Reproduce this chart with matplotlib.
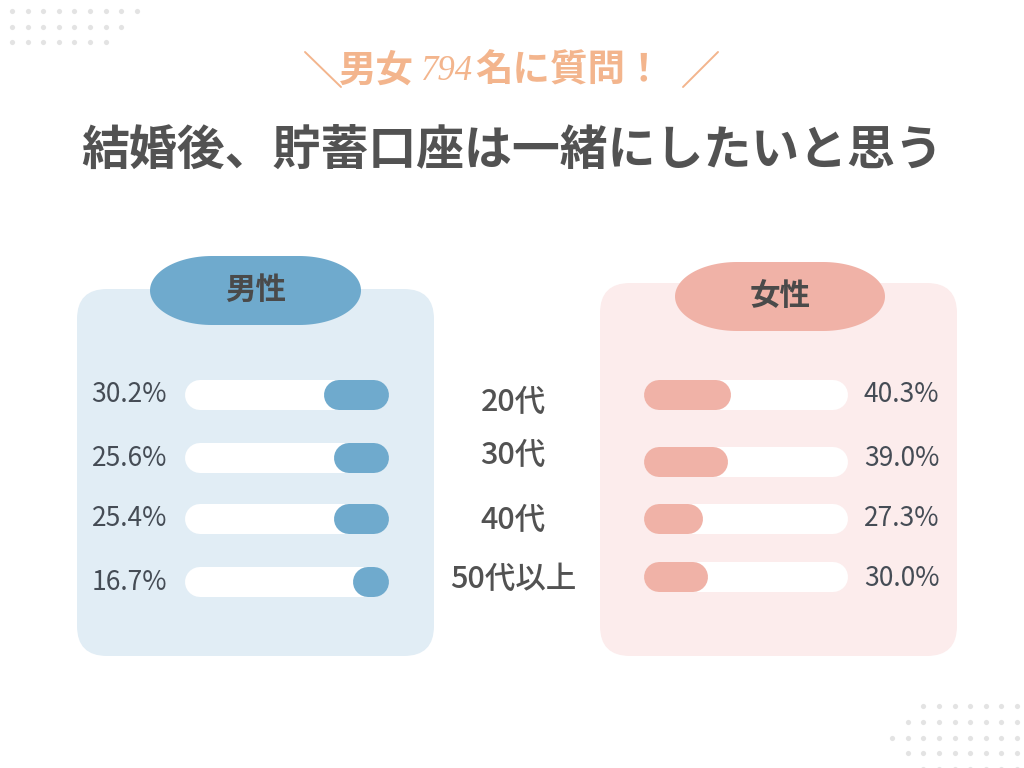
import matplotlib
matplotlib.use("Agg")
import numpy as np
import matplotlib.pyplot as plt
from matplotlib.patches import FancyBboxPatch, Polygon

plt.rcParams['font.family'] = ['Noto Sans CJK JP', 'DejaVu Sans']

# ---------------- data ----------------
title = "結婚後、貯蓄口座は一緒にしたいと思う"
subtitle_parts = ["男女", "794", "名に質問！"]
age_groups = ["20代", "30代", "40代", "50代以上"]
male_label = "男性"
female_label = "女性"
male_values = [30.2, 25.6, 25.4, 16.7]
female_values = [40.3, 39.0, 27.3, 30.0]

# ---------------- style ----------------
W, H = 1024, 768
blue = "#6faacd"
blue_bg = "#e1edf5"
pink = "#f0b2a7"
pink_bg = "#fcecec"
orange = "#f3b58d"
dark = "#525252"
num_col = "#454c55"
dot_col = "#e3e3e3"

fig = plt.figure(figsize=(W / 100, H / 100), dpi=100)
fig.patch.set_facecolor("white")
bg = fig.add_axes([0, 0, 1, 1])
bg.set_xlim(0, W)
bg.set_ylim(H, 0)
bg.axis("off")

# decorative dots
tl_rows = [(11, 9), (27, 8), (42, 7)]
xs, ys = [], []
for y, n in tl_rows:
    for i in range(n):
        xs.append(12 + i * 15.6); ys.append(y)
br_rows = [(706, 7), (722, 8), (738, 9), (753, 8), (769, 7)]
for y, n in br_rows:
    for i in range(n):
        xs.append(1017 - i * 15.6); ys.append(y)
bg.scatter(xs, ys, s=14, color=dot_col, lw=0, zorder=1)

# subtitle
bg.plot([305, 341], [52, 87], color=orange, lw=1.4, solid_capstyle="round")
bg.plot([718, 683], [52, 87], color=orange, lw=1.4, solid_capstyle="round")
bg.text(339, 70, subtitle_parts[0], ha="left", va="center", fontsize=27,
        fontweight="bold", color=orange)
bg.text(421, 71, subtitle_parts[1], ha="left", va="center", fontsize=25,
        fontstyle="italic", color=orange,
        family=["Liberation Serif", "DejaVu Serif"])
bg.text(475, 70, subtitle_parts[2], ha="left", va="center", fontsize=27,
        fontweight="bold", color=orange)

# title
bg.text(512, 151, title, ha="center", va="center", fontsize=34.5,
        fontweight="bold", color=dark)

# panels
def panel(x0, y0, x1, y1, col):
    bg.add_patch(FancyBboxPatch((x0, y0), x1 - x0, y1 - y0,
                                boxstyle="round,pad=0,rounding_size=30",
                                fc=col, ec="none", zorder=1))

def pill(x0, y0, x1, y1, col, text, rx=62):
    ry = (y1 - y0) / 2
    cy = (y0 + y1) / 2
    t = np.linspace(-np.pi / 2, np.pi / 2, 60)
    right = np.column_stack([x1 - rx + rx * np.cos(t), cy + ry * np.sin(t)])
    left = np.column_stack([x0 + rx - rx * np.cos(t), cy - ry * np.sin(t)])
    pts = np.vstack([right, left])
    bg.add_patch(Polygon(pts, closed=True, fc=col, ec="none", zorder=2))
    bg.text((x0 + x1) / 2, cy - 1, text, ha="center", va="center",
            fontsize=22, fontweight="bold", color="#4a4a4a", zorder=3)

panel(77, 289, 434, 656, blue_bg)
panel(600, 283, 957, 656, pink_bg)
pill(150, 256, 361, 325, blue, male_label)
pill(675, 262, 885, 331, pink, female_label)

# layout rows (pixel positions)
male_rows = [395, 458, 519, 582]
female_rows = [395, 462, 519, 577]
female_text_rows = [395, 458, 518, 578]
mid_rows = [402, 455, 520, 579]

# middle labels
for lab, y in zip(age_groups, mid_rows):
    bg.text(513, y, lab, ha="center", va="center", fontsize=22,
            fontweight="medium", color=dark)

# bar axes
XMAX = 95.0
bar_h_px = 30
lw_pt = bar_h_px * 72 / 100

def bar_axes(x0, x1, invert):
    ax = fig.add_axes([x0 / W, 0, (x1 - x0) / W, 1])
    ax.set_ylim(H, 0)
    if invert:
        ax.set_xlim(XMAX, 0)
    else:
        ax.set_xlim(0, XMAX)
    ax.axis("off")
    ax.patch.set_alpha(0)
    r = (bar_h_px / 2) * XMAX / (x1 - x0)
    return ax, r

ax_m, r_m = bar_axes(185, 389, True)
ax_f, r_f = bar_axes(644, 848, False)

for ax, r, vals, rows, col in [(ax_m, r_m, male_values, male_rows, blue),
                               (ax_f, r_f, female_values, female_rows, pink)]:
    for v, y in zip(vals, rows):
        ax.plot([r, XMAX - r], [y, y], color="white", lw=lw_pt,
                solid_capstyle="round", zorder=2)
        ax.plot([r, max(v - r, r + 0.01)], [y, y], color=col, lw=lw_pt,
                solid_capstyle="round", zorder=3)

# value labels
for v, y in zip(male_values, male_rows):
    bg.text(167, y, f"{v:.1f}%", ha="right", va="center", fontsize=19,
            color=num_col)
for v, y in zip(female_values, female_text_rows):
    bg.text(864, y, f"{v:.1f}%", ha="left", va="center", fontsize=19,
            color=num_col)

fig.savefig("out.png", dpi=100, facecolor="white")
